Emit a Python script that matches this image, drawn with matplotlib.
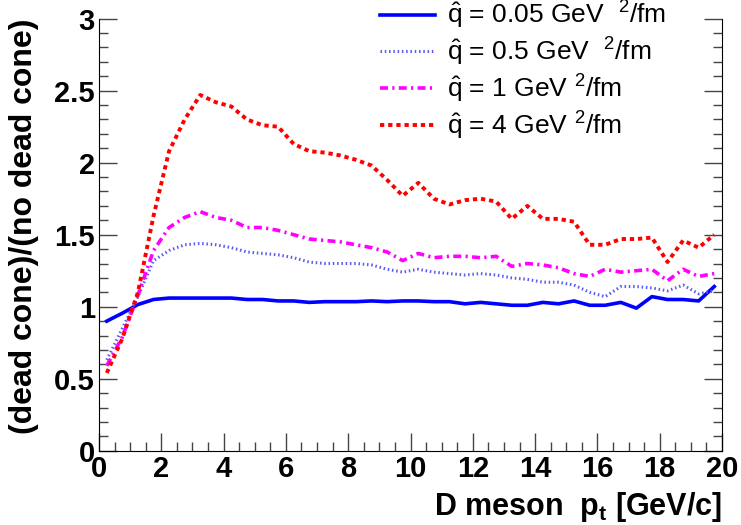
import numpy as np
import matplotlib
matplotlib.use("Agg")
import matplotlib.pyplot as plt
from matplotlib.ticker import MultipleLocator

plt.rcParams['font.family'] = ['Liberation Sans', 'DejaVu Sans']
plt.rcParams['mathtext.fontset'] = 'custom'
plt.rcParams['mathtext.rm'] = 'Liberation Sans'
plt.rcParams['mathtext.it'] = 'Liberation Sans:italic'
plt.rcParams['mathtext.bf'] = 'Liberation Sans:bold'

# D meson pt bin centres [GeV/c]
pt = [0.25, 0.75, 1.25, 1.75, 2.25, 2.75, 3.25, 3.75, 4.25, 4.75,
      5.25, 5.75, 6.25, 6.75, 7.25, 7.75, 8.25, 8.75, 9.25, 9.75,
      10.25, 10.75, 11.25, 11.75, 12.25, 12.75, 13.25, 13.75, 14.25, 14.75,
      15.25, 15.75, 16.25, 16.75, 17.25, 17.75, 18.25, 18.75, 19.25, 19.75]

ratio_q005 = [0.90, 0.955, 1.015, 1.05, 1.06, 1.06, 1.06, 1.06, 1.06, 1.05,
              1.05, 1.04, 1.04, 1.03, 1.035, 1.035, 1.035, 1.04, 1.035, 1.04,
              1.04, 1.035, 1.035, 1.02, 1.03, 1.02, 1.01, 1.01, 1.03, 1.02,
              1.04, 1.01, 1.01, 1.03, 0.99, 1.07, 1.05, 1.05, 1.04, 1.14]

ratio_q05 = [0.63, 0.85, 1.07, 1.32, 1.39, 1.43, 1.44, 1.43, 1.41, 1.38,
             1.37, 1.36, 1.34, 1.31, 1.30, 1.30, 1.30, 1.29, 1.26, 1.24,
             1.26, 1.24, 1.23, 1.22, 1.23, 1.22, 1.20, 1.19, 1.17, 1.17,
             1.15, 1.10, 1.07, 1.14, 1.14, 1.13, 1.11, 1.15, 1.09, 1.11]

ratio_q1 = [0.59, 0.79, 1.08, 1.39, 1.55, 1.62, 1.66, 1.62, 1.60, 1.55,
            1.55, 1.53, 1.50, 1.47, 1.46, 1.45, 1.43, 1.41, 1.38, 1.32,
            1.37, 1.34, 1.35, 1.35, 1.34, 1.35, 1.28, 1.30, 1.29, 1.27,
            1.23, 1.21, 1.26, 1.24, 1.25, 1.26, 1.18, 1.26, 1.21, 1.23]

ratio_q4 = [0.54, 0.78, 1.10, 1.63, 2.08, 2.30, 2.47, 2.42, 2.39, 2.30,
            2.26, 2.25, 2.13, 2.08, 2.07, 2.05, 2.02, 1.98, 1.88, 1.77,
            1.86, 1.75, 1.71, 1.74, 1.75, 1.73, 1.61, 1.70, 1.61, 1.61,
            1.59, 1.43, 1.43, 1.47, 1.47, 1.48, 1.31, 1.46, 1.41, 1.50]

labels = [r'$\hat{\mathrm{q}}$ = 0.05 GeV  $^{2}$/fm',
          r'$\hat{\mathrm{q}}$ = 0.5 GeV  $^{2}$/fm',
          r'$\hat{\mathrm{q}}$ = 1 GeV $^{2}$/fm',
          r'$\hat{\mathrm{q}}$ = 4 GeV $^{2}$/fm']

fig = plt.figure(figsize=(7.41, 5.25), dpi=100)
ax = fig.add_axes([0.1336, 0.1415, 0.9744 - 0.1336, 0.9644 - 0.1415])

ax.plot(pt, ratio_q005, color='#0000ff', lw=2.6, ls='-', label=labels[0])
ax.plot(pt, ratio_q05, color='#5c5cf0', lw=2.2, ls=(0, (0.5, 0.9)), label=labels[1])
ax.plot(pt, ratio_q1, color='#ff00ff', lw=2.6, ls=(0, (2.2, 1.2, 0.6, 1.2)), label=labels[2])
ax.plot(pt, ratio_q4, color='#ff0000', lw=2.8, ls=(0, (1.1, 1.0)), label=labels[3])

ax.set_xlim(0, 20)
ax.set_ylim(0, 3)
ax.spines['top'].set_visible(False)
ax.xaxis.set_major_locator(MultipleLocator(2))
ax.xaxis.set_minor_locator(MultipleLocator(0.5))
ax.yaxis.set_major_locator(MultipleLocator(0.5))
ax.yaxis.set_minor_locator(MultipleLocator(0.1))
ax.tick_params(which='both', direction='in', top=False, right=True, color='#444444')
ax.tick_params(which='major', length=13, width=1)
ax.tick_params(which='minor', length=6.5, width=1)
ax.tick_params(axis='y', which='major', pad=3, labelsize=21)
ax.tick_params(axis='x', which='major', pad=3, labelsize=21)
ax.set_yticks([0, 0.5, 1, 1.5, 2, 2.5, 3])
ax.set_yticklabels(['0', '0.5', '1', '1.5', '2', '2.5', '3'])
for t in ax.get_xticklabels() + ax.get_yticklabels():
    t.set_fontweight('bold')

ax.set_ylabel('(dead cone)/(no dead cone)', fontsize=23, fontweight='bold')
ax.yaxis.set_label_coords(-0.097, 1.0)
ax.yaxis.label.set_horizontalalignment('right')
ax.set_xlabel(r'D meson  p$_{\mathbf{t}}$ [GeV/c]', fontsize=22, fontweight='bold')
ax.xaxis.set_label_coords(1.0, -0.09)
ax.xaxis.label.set_horizontalalignment('right')

leg = ax.legend(loc='upper left', bbox_to_anchor=(0.451, 1.045), frameon=False,
                fontsize=19, handlelength=2.1, handletextpad=0.45, labelspacing=0.17,
                borderpad=0, borderaxespad=0)

fig.savefig('out.png', dpi=100)
